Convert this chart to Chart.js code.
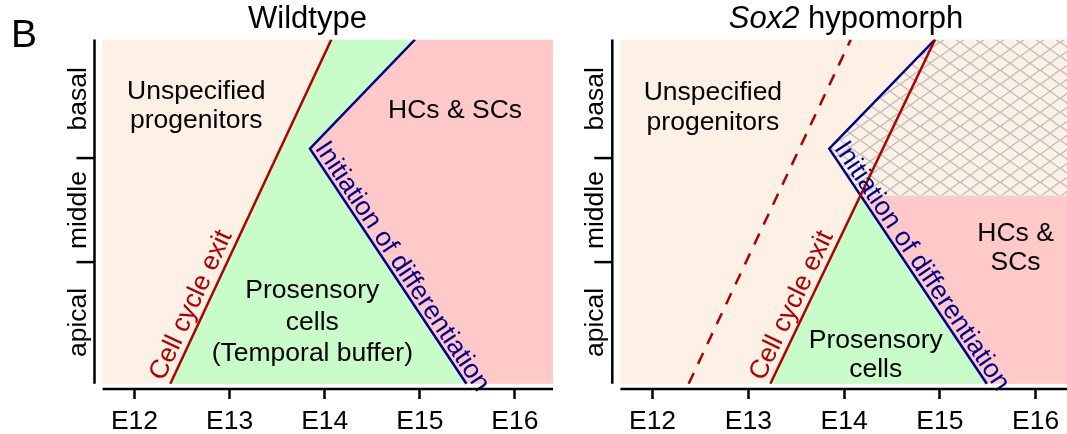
<!DOCTYPE html>
<html>
<head>
<meta charset="utf-8">
<script src="https://cdn.jsdelivr.net/npm/chart.js@4.4.1/dist/chart.umd.min.js"></script>
<style>
    html, body { margin: 0; padding: 0; background: #fff; overflow: hidden; }
    #quadro { position: relative; width: 1067px; height: 434px; overflow: hidden; }
    #graficoWt { position: absolute; left: 0; top: 0; }
    #graficoSox { position: absolute; left: 560px; top: 0; }
</style>
</head>
<body>
<div id="quadro">
    <canvas id="graficoWt" width="560" height="434"></canvas>
    <canvas id="graficoSox" width="514" height="434"></canvas>
</div>
<script>
    // eixos
    const xTicks = [12, 13, 14, 15, 16];
    const xTickLabels = ['E12', 'E13', 'E14', 'E15', 'E16'];
    const yTicks = [1, 2];
    const yLabels = ['apical', 'middle', 'basal'];
    const yLabelPos = [0.42, 1.5, 2.57];

    // limites da area pintada (idade embrionaria x posicao)
    const xLeft = 11.665, xRight = 16.40;
    const yBottom = -0.17, yTop = 3.14;

    // saida do ciclo celular - wildtype (tambem tracejada no Sox2)
    const wtExitX = [12.377, 14.07];
    const wtExitY = [yBottom, yTop];
    // inicio da diferenciacao (igual nos dois)
    const diffX = [14.95, 13.845, 15.49];
    const diffY = [yTop, 2.09, yBottom];
    // saida do ciclo celular - Sox2 hypomorph
    const soxExitX = [13.23, 14.95];
    const soxExitY = [yBottom, yTop];
    // cruzamento das linhas no Sox2 = topo da area HCs & SCs
    const soxCrossX = 14.17, soxCrossY = 1.64;

    const fonte = '"Liberation Sans", Arial, sans-serif';
    const tamTexto = 26.5;
    const corPele = '#fdf0e4';
    const corVerde = '#c8fcc8';
    const corRosa = '#ffc9c9';
    const corVermelho = '#b00000';
    const corAzul = '#00008b';

    function pontos(xs, ys) {
        return xs.map((x, i) => ({ x: x, y: ys[i] }));
    }

    function px(chart, x, y) {
        return [chart.scales.x.getPixelForValue(x), chart.scales.y.getPixelForValue(y)];
    }

    function caminho(chart, pts) {
        const ctx = chart.ctx;
        ctx.beginPath();
        pts.forEach((p, i) => {
            const [a, b] = px(chart, p[0], p[1]);
            if (i == 0) ctx.moveTo(a, b); else ctx.lineTo(a, b);
        });
        ctx.closePath();
    }

    function padraoHachura(ctx) {
        const w = 20, h = 14.5;
        const c = document.createElement('canvas');
        c.width = w; c.height = h;
        const g = c.getContext('2d');
        g.strokeStyle = '#bcbcbc';
        g.lineWidth = 1.3;
        g.beginPath();
        g.moveTo(-w * 0.1, -h * 0.1); g.lineTo(w * 1.1, h * 1.1);
        g.moveTo(-w * 0.1, h * 1.1); g.lineTo(w * 1.1, -h * 0.1);
        g.stroke();
        return ctx.createPattern(c, 'repeat');
    }

    function montarPainel(idCanvas, painel) {

        const plugin = {
            id: 'painel',
            beforeDatasetsDraw(chart) {
                const ctx = chart.ctx;
                const area = chart.chartArea;
                ctx.save();
                ctx.beginPath();
                ctx.rect(area.left, area.top, area.right - area.left, area.bottom - area.top);
                ctx.clip();

                caminho(chart, [[xLeft, yTop], [xRight, yTop], [xRight, yBottom], [xLeft, yBottom]]);
                ctx.fillStyle = corPele;
                ctx.fill();

                painel.regioes.forEach(r => {
                    caminho(chart, r.pts);
                    if (r.hachura) {
                        ctx.fillStyle = corPele;
                        ctx.fill();
                        ctx.fillStyle = padraoHachura(ctx);
                    } else {
                        ctx.fillStyle = r.cor;
                    }
                    ctx.fill();
                });
                ctx.restore();
            },
            afterDatasetsDraw(chart) {
                const ctx = chart.ctx;
                ctx.save();
                ctx.font = `${tamTexto}px ${fonte}`;
                ctx.fillStyle = '#000';
                ctx.textAlign = 'center';
                ctx.textBaseline = 'alphabetic';
                painel.textos.forEach(t => {
                    const [a, b] = px(chart, t.x, t.y);
                    t.linhas.forEach((linha, i) => ctx.fillText(linha, a, b + i * t.lh));
                });

                // rotulos ao longo das linhas
                painel.rotulos.forEach(r => {
                    const [ax, ay] = px(chart, r.de[0], r.de[1]);
                    const [bx, by] = px(chart, r.ate[0], r.ate[1]);
                    const ang = Math.atan2(by - ay, bx - ax);
                    ctx.save();
                    ctx.translate(ax, ay);
                    ctx.rotate(ang);
                    ctx.fillStyle = r.cor;
                    ctx.textAlign = 'left';
                    ctx.fillText(r.texto, r.s, -r.gap);
                    ctx.restore();
                });
                ctx.restore();
            },
            afterDraw(chart) {
                const ctx = chart.ctx;
                const area = chart.chartArea;
                ctx.save();
                ctx.strokeStyle = '#000';
                ctx.lineWidth = 2.5;

                // eixo x
                ctx.beginPath();
                ctx.moveTo(px(chart, xLeft, 0)[0], area.bottom);
                ctx.lineTo(px(chart, xRight, 0)[0], area.bottom);
                ctx.stroke();

                // eixo y
                ctx.beginPath();
                ctx.moveTo(area.left, px(chart, 0, yTop)[1]);
                ctx.lineTo(area.left, px(chart, 0, yBottom)[1]);
                ctx.stroke();

                yTicks.forEach(v => {
                    const y = px(chart, 0, v)[1];
                    ctx.beginPath();
                    ctx.moveTo(area.left - 18, y);
                    ctx.lineTo(area.left, y);
                    ctx.stroke();
                });

                ctx.fillStyle = '#000';
                ctx.font = `${tamTexto}px ${fonte}`;
                ctx.textAlign = 'center';
                ctx.textBaseline = 'alphabetic';
                yLabels.forEach((lab, i) => {
                    ctx.save();
                    ctx.translate(area.left - 9, px(chart, 0, yLabelPos[i])[1]);
                    ctx.rotate(-Math.PI / 2);
                    ctx.fillText(lab, 0, 0);
                    ctx.restore();
                });

                // titulo (parte italica + parte normal)
                ctx.textAlign = 'left';
                const fItal = `italic 31px ${fonte}`;
                const fNorm = `31px ${fonte}`;
                ctx.font = fItal;
                const w1 = ctx.measureText(painel.tituloItalico).width;
                ctx.font = fNorm;
                const w2 = ctx.measureText(painel.titulo).width;
                let x0 = painel.tituloX - (w1 + w2) / 2;
                ctx.font = fItal;
                ctx.fillText(painel.tituloItalico, x0, 28);
                ctx.font = fNorm;
                ctx.fillText(painel.titulo, x0 + w1, 28);

                if (painel.letra) {
                    ctx.font = `39px ${fonte}`;
                    ctx.fillText(painel.letra, 11, 47);
                }
                ctx.restore();
            }
        };

        const config = {
            type: 'scatter',
            data: { datasets: painel.linhas },
            options: {
                responsive: false,
                animation: false,
                events: [],
                layout: { padding: painel.padding },
                plugins: { legend: { display: false }, tooltip: { enabled: false } },
                scales: {
                    x: {
                        type: 'linear',
                        min: 11.58,
                        max: 16.40,
                        afterBuildTicks: (scale) => { scale.ticks = xTicks.map(v => ({ value: v })); },
                        afterFit: (scale) => { scale.height = 45; },
                        ticks: {
                            callback: (v) => xTickLabels[xTicks.indexOf(v)],
                            font: { family: fonte, size: tamTexto },
                            color: '#000',
                            padding: 7,
                            maxRotation: 0,
                            autoSkip: false
                        },
                        grid: {
                            drawOnChartArea: false,
                            drawTicks: true,
                            tickLength: 10,
                            tickWidth: 2.5,
                            tickColor: '#000'
                        },
                        border: { display: false }
                    },
                    y: {
                        type: 'linear',
                        min: -0.22,
                        max: 3.14,
                        display: false
                    }
                }
            },
            plugins: [plugin]
        };

        return new Chart(document.getElementById(idCanvas), config);
    }

    function linha(xs, ys, cor, tracejado) {
        return {
            data: pontos(xs, ys),
            showLine: true,
            pointRadius: 0,
            borderColor: cor,
            borderWidth: 2.5,
            borderDash: tracejado ? [12, 10] : [],
            fill: false
        };
    }

    const vertice = [diffX[1], diffY[1]];
    const baseDiff = [diffX[2], diffY[2]];

    montarPainel('graficoWt', {
        padding: { left: 94.5, right: 7, top: 39.5, bottom: 0 },
        tituloItalico: '',
        titulo: 'Wildtype',
        tituloX: 307.5,
        letra: 'B',
        linhas: [
            linha(wtExitX, wtExitY, corVermelho, false),
            linha(diffX, diffY, corAzul, false)
        ],
        regioes: [
            { cor: corVerde, pts: [[wtExitX[0], yBottom], [wtExitX[1], yTop], [diffX[0], yTop], vertice, baseDiff] },
            { cor: corRosa, pts: [[diffX[0], yTop], [xRight, yTop], [xRight, yBottom], baseDiff, vertice] }
        ],
        textos: [
            { linhas: ['Unspecified', 'progenitors'], x: 12.65, y: 2.567, lh: 29 },
            { linhas: ['HCs & SCs'], x: 15.37, y: 2.385, lh: 29 },
            { linhas: ['Prosensory', 'cells', '(Temporal buffer)'], x: 13.87, y: 0.654, lh: 31.5 }
        ],
        rotulos: [
            { texto: 'Cell cycle exit', cor: corVermelho, de: [wtExitX[0], wtExitY[0]], ate: [wtExitX[1], wtExitY[1]], s: -1, gap: 7 },
            { texto: 'Initiation of differentiation', cor: corAzul, de: vertice, ate: baseDiff, s: 2, gap: 4 }
        ]
    });

    montarPainel('graficoSox', {
        padding: { left: 52.3, right: 0, top: 39.5, bottom: 0 },
        tituloItalico: 'Sox2',
        titulo: ' hypomorph',
        tituloX: 286,
        letra: null,
        linhas: [
            linha(wtExitX, wtExitY, corVermelho, true),
            linha(soxExitX, soxExitY, corVermelho, false),
            linha(diffX, diffY, corAzul, false)
        ],
        regioes: [
            { cor: corVerde, pts: [[soxExitX[0], yBottom], [soxCrossX, soxCrossY], baseDiff] },
            { cor: corRosa, pts: [[soxCrossX, soxCrossY], [xRight, soxCrossY], [xRight, yBottom], baseDiff] },
            { hachura: true, pts: [[diffX[0], yTop], [xRight, yTop], [xRight, soxCrossY], [soxCrossX, soxCrossY], vertice] }
        ],
        textos: [
            { linhas: ['Unspecified', 'progenitors'], x: 12.63, y: 2.56, lh: 30 },
            { linhas: ['HCs &', 'SCs'], x: 15.79, y: 1.2, lh: 29 },
            { linhas: ['Prosensory', 'cells'], x: 14.33, y: 0.173, lh: 29 }
        ],
        rotulos: [
            { texto: 'Cell cycle exit', cor: corVermelho, de: [soxExitX[0], soxExitY[0]], ate: [soxExitX[1], soxExitY[1]], s: -1, gap: 7 },
            { texto: 'Initiation of differentiation', cor: corAzul, de: vertice, ate: baseDiff, s: 2, gap: 4 }
        ]
    });

    console.log('paineis desenhados');
</script>
</body>
</html>
